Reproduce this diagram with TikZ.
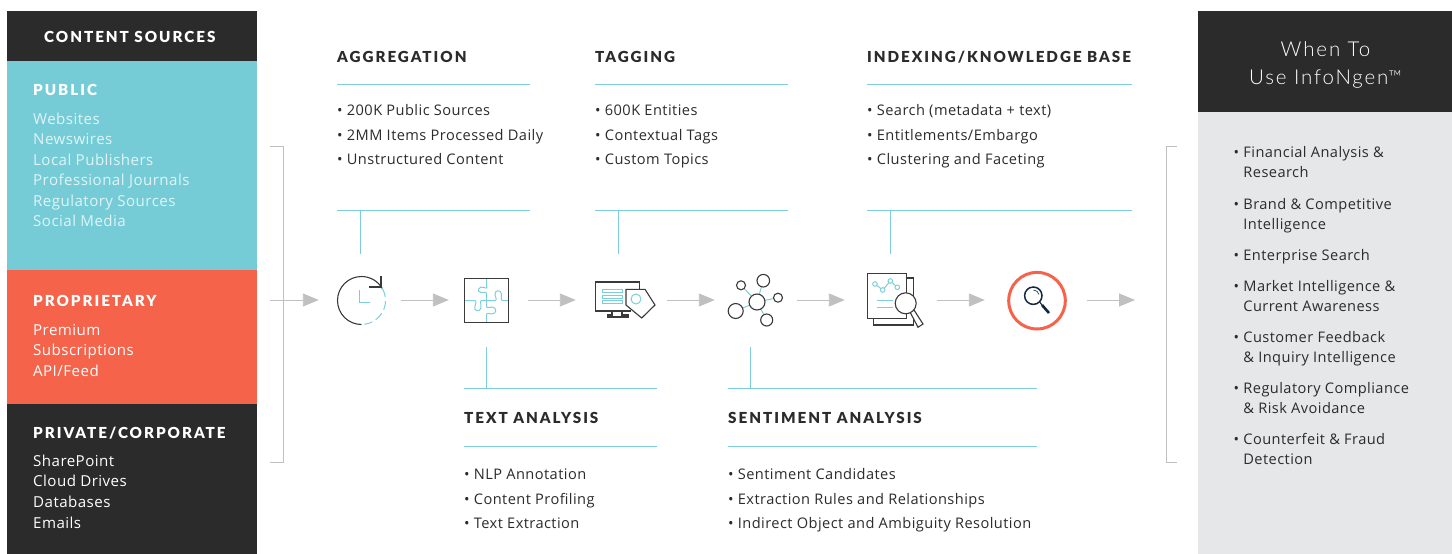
\documentclass[tikz,border=0pt]{standalone}
\usepackage{fontspec}
\usetikzlibrary{arrows.meta}
\setmainfont{Open Sans}[LetterSpace=3]
\newfontfamily\headfont{Lato Black}[LetterSpace=13]
\newfontfamily\titlefont{Lato Light}[LetterSpace=9]
\definecolor{cteal}{HTML}{75CCD7}
\definecolor{corange}{HTML}{F4634A}
\definecolor{cdark}{HTML}{2B2B2B}
\definecolor{cgrey}{HTML}{E6E7E9}
\definecolor{cline}{HTML}{7CCFDA}
\definecolor{carrow}{HTML}{C0C0C0}
\definecolor{cpale}{HTML}{E0F4F6}
\definecolor{cicon}{HTML}{3A3A3A}
\definecolor{cnavy}{HTML}{10293F}
\newcommand{\bodyfs}{\fontsize{14.6}{20.2}\selectfont}
\newcommand{\sidefs}{\fontsize{15.1}{20.55}\selectfont}
\tikzset{
  x=1pt,y=-1pt,
  panel/.style={fill=#1,draw=none},
  head/.style={anchor=base west,inner sep=0pt,font=\headfont\fontsize{15.2}{18}\selectfont,text=cdark},
  headw/.style={head,text=white},
  listb/.style={anchor=north west,inner sep=0pt,align=left,text=cdark,font=\fontsize{14.6}{24.4}\selectfont},
  liste/.style={anchor=north west,inner sep=0pt,align=left,text=#1,font=\sidefs},
  rlist/.style={anchor=north west,inner sep=0pt,align=left,text=cdark,font=\bodyfs},
  rule/.style={draw=cline,line width=1pt},
  flow/.style={draw=carrow,line width=.9pt,-{Triangle[length=16pt,width=13pt,fill=carrow]}},
  bracket/.style={draw=carrow,line width=.9pt},
  slot/.style={inner sep=0pt,minimum height=50pt,draw=none},
  ink/.style={draw=cicon,line width=1.1pt},
  tealink/.style={draw=cline,line width=1pt},
}
\begin{document}
\begin{tikzpicture}
\useasboundingbox (0,0) rectangle (1452,554);
% left panels
\fill[panel=cdark] (7,11) rectangle (257,61);
\fill[panel=cteal] (7,61) rectangle (257,270);
\fill[panel=corange] (7,270) rectangle (257,404);
\fill[panel=cdark] (7,404) rectangle (257,554);
\node[headw] (tcs) at (44,42) {CONTENT SOURCES};
\node[headw] (tpub) at (33,95) {PUBLIC};
\node[liste=cpale] (lpub) at (33,109.6) {\strut Websites\\Newswires\\Local Publishers\\Professional Journals\\Regulatory Sources\\Social Media};
\node[headw] (tpro) at (33,306) {PROPRIETARY};
\node[liste=white] (lpro) at (33,320.8) {\strut Premium\\Subscriptions\\API/Feed};
\node[headw] (tpri) at (33,438) {PRIVATE/CORPORATE};
\node[liste=white] (lpri) at (33,451.8) {\strut SharePoint\\Cloud Drives\\Databases\\Emails};
% right panels
\fill[panel=cdark] (1198,11) rectangle (1452,112);
\fill[panel=cgrey] (1198,112) rectangle (1452,554);
\node[inner sep=0pt,align=center,text=white,font=\titlefont\fontsize{20.5}{28}\selectfont] (when) at (1325.5,64.5) {When To\\Use InfoNgen\raisebox{1pt}{\fontsize{18}{18}\selectfont ™}};
\node[rlist] (r1) at (1233.5,143) {\strut • Financial Analysis \&\\\phantom{• }Research};
\node[rlist] (r2) at (1233.5,195) {\strut • Brand \& Competitive\\\phantom{• }Intelligence};
\node[rlist] (r3) at (1233.5,246) {\strut • Enterprise Search};
\node[rlist] (r4) at (1233.5,277) {\strut • Market Intelligence \&\\\phantom{• }Current Awareness};
\node[rlist] (r5) at (1233.5,328) {\strut • Customer Feedback\\\phantom{• }\& Inquiry Intelligence};
\node[rlist] (r6) at (1233.5,379) {\strut • Regulatory Compliance\\\phantom{• }\& Risk Avoidance};
\node[rlist] (r7) at (1233.5,430) {\strut • Counterfeit \& Fraud\\\phantom{• }Detection};
% upper columns
\node[head] (h1) at (337,62) {AGGREGATION};
\draw[rule] (337,84) coordinate (h1a) -- (530,84) coordinate (h1b);
\node[listb] (l1) at (337,98.4) {\strut • 200K Public Sources\\• 2MM Items Processed Daily\\• Unstructured Content};
\node[head] (h2) at (595,62) {TAGGING};
\draw[rule] (595,84) coordinate (h2a) -- (788,84) coordinate (h2b);
\node[listb] (l2) at (595,98.4) {\strut • 600K Entities\\• Contextual Tags\\• Custom Topics};
\node[head] (h3) at (867,62) {INDEXING/KNOWLEDGE BASE};
\draw[rule] (867,84) coordinate (h3a) -- (1132,84) coordinate (h3b);
\node[listb] (l3) at (867,98.4) {\strut • Search (metadata + text)\\• Entitlements/Embargo\\• Clustering and Faceting};
% lower columns
\node[head] (h4) at (464,423) {TEXT ANALYSIS};
\draw[rule] (464,446) coordinate (h4a) -- (657,446) coordinate (h4b);
\node[listb] (l4) at (464,462.4) {\strut • NLP Annotation\\• Content Profiling\\• Text Extraction};
\node[head] (h5) at (728,423) {SENTIMENT ANALYSIS};
\draw[rule] (728,446) coordinate (h5a) -- (1037,446) coordinate (h5b);
\node[listb] (l5) at (728,462.4) {\strut • Sentiment Candidates\\• Extraction Rules and Relationships\\• Indirect Object and Ambiguity Resolution};
% flow slots
\coordinate (fstart) at (270,300);
\coordinate (fend) at (1135,300);
\node[slot,minimum width=82pt] (clock) at (360,300) {};
\node[slot,minimum width=79pt] (puzzle) at (488.5,300) {};
\node[slot,minimum width=91pt] (monitor) at (621.5,300) {};
\node[slot,minimum width=82pt] (net) at (756,300) {};
\node[slot,minimum width=92pt] (report) at (891,300) {};
\node[slot,minimum width=102pt] (search) at (1036,300) {};
% brackets
\draw[bracket] (270,146) -- (283,146) -- (283,462) -- (270,462);
\draw[bracket] (1177,146) -- (1166,146) -- (1166,462) -- (1177,462);
% arrows
\draw[flow] (fstart) -- (clock);
\draw[flow] (clock) -- (puzzle);
\draw[flow] (puzzle) -- (monitor);
\draw[flow] (monitor) -- (net);
\draw[flow] (net) -- (report);
\draw[flow] (report) -- (search);
\draw[flow] (search) -- (fend);
% drops
\draw[rule] (337,210.5) -- (530,210.5);
\draw[rule] (360.5,210.5) -- (360.5,254);
\draw[rule] (595,210.5) -- (788,210.5);
\draw[rule] (618.5,210.5) -- (618.5,254);
\draw[rule] (867,210.5) -- (1132,210.5);
\draw[rule] (890.5,210.5) -- (890.5,254);
\draw[rule] (464,388.5) -- (657,388.5);
\draw[rule] (486,347) -- (486,388.5);
\draw[rule] (728,388.5) -- (1037,388.5);
\draw[rule] (750,347) -- (750,388.5);
% clock icon
\draw[ink] (361.5,324.5) arc[start angle=270,end angle=30,radius=24pt];
\draw[ink] (369,287) -- (381,287) -- (381,276);
\draw[tealink,dash pattern=on 9pt off 4pt] (382.3,288.5) arc[start angle=30,end angle=-83,radius=24pt];
\draw[tealink] (359,290) -- (359,302) -- (370,302);
% puzzle icon
\draw[tealink] (486.5,278) -- (486.5,285.5) .. controls (488,287) and (487,289) .. (484,287.5) .. controls (479,285) and (476,292) .. (481,292.5) .. controls (484,293) and (486.5,291) .. (486.5,294) -- (486.5,300.5) -- (495,300.5) .. controls (497,300.5) and (496,297) .. (495,295) .. controls (494,290) and (501,289) .. (501.5,294) .. controls (502,297) and (500,300.5) .. (503,300.5) -- (509,300.5);
\draw[tealink] (464,300.5) -- (474,300.5) .. controls (477,300.5) and (476,303) .. (475,306) .. controls (473,311) and (480,313) .. (481,308) .. controls (481.5,304) and (479,300.5) .. (482,300.5) -- (486.5,300.5) -- (486.5,306) .. controls (486.5,309) and (489,307) .. (492,307) .. controls (497,307) and (497,314) .. (492,314) .. controls (489,314) and (486.5,312) .. (486.5,315) -- (486.5,322);
\draw[ink] (464.5,278.5) rectangle (508.5,322.5);
% monitor icon
\draw[ink] (639.5,289) -- (639.5,282) -- (595.7,282) -- (595.7,311) -- (631,311);
\draw[ink] (612,311) -- (612,315) -- (608,315) -- (608,317) -- (628,317) -- (628,315) -- (622,315) -- (622,311);
\draw[tealink,line width=.9pt] (602,289.7) rectangle (622,292.7) (602,295) rectangle (622,298) (602,300.3) rectangle (622,303.3);
\draw[ink,fill=white] (626,289.3) -- (645,289.3) -- (655,305) -- (641.7,318) -- (626,305) -- cycle;
\draw[tealink] (636,299) circle[radius=5pt];
% network icon
\draw[tealink] (741,285.3) -- (757,302) (763.3,280.7) -- (757,302) (778,297.7) -- (757,302) (766.7,320) -- (757,302) (735.7,311) -- (757,302);
\foreach \px/\py/\pr in {757/302/8,741/285.3/4.5,763.3/280.7/6.3,778/297.7/4.5,766.7/320/6,735.7/311/7.5}
  \draw[ink,fill=white] (\px,\py) circle[radius=\pr pt];
% report icon
\draw[ink] (907.3,278) -- (913.3,278) -- (913.3,325) -- (873.3,325) -- (873.3,319);
\draw[ink] (867.7,273.3) rectangle (906.7,318.3);
\draw[tealink] (875,284) -- (882.7,290) -- (890.3,281) -- (897.3,287.3);
\foreach \px/\py in {875/284,882.7/290,890.3/281,897.3/287.3}
  \draw[tealink,fill=white] (\px,\py) circle[radius=2.3pt];
\draw[tealink] (877,300.7) -- (893,300.7) (877,307.3) -- (893,307.3);
\draw[ink,fill=white] (910,312) -- (918,327.3) -- (923,324) -- (914,310) -- cycle;
\draw[ink,fill=white] (905.7,303.3) circle[radius=10.5pt];
% search icon
\draw[draw=corange,line width=3pt] (1037,300.7) circle[radius=28.3pt];
\draw[draw=cnavy,line width=1.5pt] (1033.3,295.7) circle[radius=8.7pt];
\draw[draw=cnavy,line width=.6pt] (1033.5,290) arc[start angle=90,end angle=10,radius=5.5pt];
\draw[draw=cnavy,line width=1.1pt] (1039.7,302) -- (1042,305);
\draw[draw=cnavy,line width=2.6pt] (1042,305) -- (1049,313);
\end{tikzpicture}
\end{document}
